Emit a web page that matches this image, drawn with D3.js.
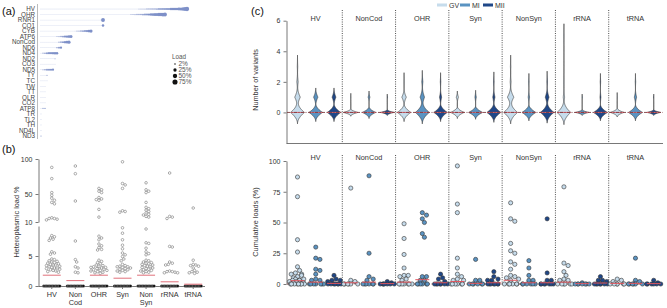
<!DOCTYPE html>
<html lang="en">
<head>
<meta charset="utf-8">
<title>mtDNA heteroplasmy</title>
<script src="https://d3js.org/d3.v7.min.js"></script>
<style>
  body { margin: 0; background: #fff; font-family: 'Liberation Sans', Arial, sans-serif; }
  text { fill: #333; }
  .axis path, .axis line { stroke: #555; stroke-width: 0.8px; }
  .axis text { font-size: 7px; fill: #333; }
</style>
</head>
<body>
<div id="fig"></div>
<script>
// ---------- panel (a): variants per gene ----------
var genes = ["HV","OHR","RNR1","CO1","CYB","ATP6","NonCod","ND6","ND4","ND2","CO3","ND5",
             "TY","TC","TW","TT","OLR","CO2","ATP8","TR","TL2","TH","ND4L","ND3"];
// number of low-load (~2%) variants per gene
var geneLowCount = [49, 45, 30, 31, 17, 8, 9, 8, 1, 7, 8, 1, 3, 4, 3, 3, 3, 3, 1, 1, 1, 1, 1, 0];
// loads (%) of the remaining variants per gene
var geneHighLoads = [
  [4,5,5,6,7,8,9,10,11,12,13,14,15,17,19,20,22,25,27,30,33,36,45,60,75],
  [4,5,6,7,8,10,12,14,16,20,25,30,36,40,45,50,55,58],
  [3,60],
  [25],
  [3,5,7,10,13,17,21,30,40],
  [4,6,9,13,18,24,30,36],
  [6,10,15,22,30,40],
  [8,14,20],
  [5,10,15,18,20,22,24,25],
  [4],
  [],
  [6,10,14,16,18,20],
  [6], [], [], [], [], [],
  [5,6],
  [], [], [], [],
  [5]
];
var loadLegend = [2, 25, 50, 75];

// ---------- panel (b): heteroplasmic load per region ----------
var bCats = ["HV","Non Cod","OHR","Syn","Non Syn","rRNA","tRNA"];
var bLoads = [
  [88,72,52,48,44,41,38,36,16,15,15,14,13,8.4,8.2,8.0,7.8,7.6,5.7,5.5,5.3,4.5,4.4,4.2,4.1,4.0,3.9,3.8,3.7,3.6,3.5,3.4,3.3,3.2,3.1,3.0,2.9,2.8,2.7,2.6,2.5,2.4,2.3,3.5,3.0],
  [90,79,40,7.5,4.4,4.0,3.2,3.0,2.3,2.2],
  [58,56,54,52,45,43,42,41,28,17,8.3,8.0,7.7,7.0,6.7,6.4,6.1,6.0,4.3,4.1,3.9,3.7,3.5,3.4,3.3,3.2,3.1,3.0,2.9,2.8,2.7,2.6,2.5,2.4,2.3,2.2,2.1,2.9,3.1,2.6],
  [96,65,63,58,26,25,24,9.7,8.8,7.7,6.8,6.2,5.5,5.2,4.9,4.5,4.2,3.4,3.3,3.2,3.1,3.0,2.9,2.8,2.7,2.6,2.5,2.4,2.3,3.6,3.2],
  [66,56,54,52,38,31,29,27,25,23,21,20,18,17,9.5,7.2,7.1,6.3,5.7,5.4,5.2,4.3,4.2,4.0,3.9,3.8,3.7,3.6,3.5,3.4,3.3,3.2,3.1,3.0,2.9,2.8,2.7,2.6,2.5,2.4,2.3,2.2],
  [80,18,17,15,6.6,6.5,4.0,3.8,3.6,3.5,2.5,2.4,2.4,2.3,2.2,2.2],
  [30,4.3,3.6,3.5,3.4,3.3,3.0,2.6,2.4,2.3,2.2,2.1]
];
var bZeroCount = [12, 12, 12, 12, 12, 12, 12];
var bMedians = [1.8, 0.9, 1.8, 1.3, 1.8, 0.7, 0.3];

// ---------- panel (c): per stage ----------
var regions = ["HV","NonCod","OHR","Syn","NonSyn","rRNA","tRNA"];
var stages = ["GV","MI","MII"];
var stageColors = ["#c6dcec", "#5a93c2", "#1f4788"];

// number of oocytes carrying 0,1,2,... variants
var cntGV  = [[30,12,3,1],[30,1],[30,10,1],[30,5],[30,14,2,1],[30,3,1,0,0,1],[30,1]];
var cntMI  = [[25,8],[30,4],[25,8,2],[30,3],[30,3,1],[30,1],[30,5,1]];
var cntMII = [[25,7],[30,1],[25,4,1],[25,4,1],[25,7,1],[30,2,1],[30,1]];
// kernel extent (variants) around each value
var bwGV  = [0.75, 0.25, 0.6, 0.4, 0.75, 0.8, 0.3];
var bwMI  = [0.6, 0.4, 0.75, 0.45, 0.55, 0.2, 0.55];
var bwMII = [0.6, 0.2, 0.6, 0.65, 0.7, 0.55, 0.2];

// cumulative loads (%)
var cGV = [
  [87,71,36,26,14,11,9,8,8,7,6,5,4,4,3,3,3,2,2,1,1,0,0,0,0,0,0,0,0],
  [78,3,2,0,0,0,0,0,0],
  [49,37,24,13,7,7,6,4,3,0,0,0,0,0,0,0],
  [96,65,58,21,13,8,6,4,3,3,0,0,0,0,0,0],
  [66,53,51,33,27,25,18,16,12,7,6,5,4,3,0,0,0,0,0,0],
  [79,17,15,10,7,4,3,3,0,0,0,0,0,0],
  [4,3,2,0,0,0,0,0,0]
];
var cMI = [
  [30,21,20,12,11,8,4,3,3,0,0,0,0,0,0,0],
  [88,25,6,4,3,0,0,0,0,0,0],
  [58,56,53,50,41,38,6,6,3,3,0,0,0,0,0,0],
  [20,3,3,0,0,0,0,0,0],
  [19,13,7,3,3,0,0,0,0,0,0],
  [1,0,0,0,0,0,0,0],
  [21,3,2,0,0,0,0,0,0]
];
var cMII = [
  [7,4,3,3,2,0,0,0,0,0,0,0],
  [2,1,0,0,0,0,0,0,0],
  [8,5,4,2,0,0,0,0,0,0,0],
  [10,6,4,3,3,0,0,0,0,0,0,0],
  [53,9,3,3,0,0,0,0,0,0,0],
  [6,3,3,2,0,0,0,0,0,0,0],
  [3,1,0,0,0,0,0,0]
];
var cMedGV  = [2.7, 1, 1.5, 2, 3, 1.5, 0.5];
var cMedMI  = [1.5, 1.5, 3.5, 0.5, 1, 0.3, 0.5];
var cMedMII = [0.5, 0.3, 1, 1, 1, 0.8, 0.3];

var width = 667, height = 308;
var svg = d3.select("#fig").append("svg")
  .attr("width", width).attr("height", height);

// simple deterministic beeswarm: returns x offsets
function swarm(values, yPos, r, maxOff) {
  var placed = [];
  var out = new Array(values.length);
  var order = d3.range(values.length).sort(function (a, b) { return values[b] - values[a]; });
  order.forEach(function (i, n) {
    var y = yPos(values[i]);
    var step = r * 0.95, off = null;
    for (var k = 0; k < 60; k++) {
      var o = (k % 2 ? 1 : -1) * Math.ceil(k / 2) * step;
      if (Math.abs(o) > maxOff) continue;
      var ok = placed.every(function (p) {
        var dx = p.x - o, dy = p.y - y;
        return dx * dx + dy * dy >= 3.4 * r * r;
      });
      if (ok) { off = o; break; }
    }
    if (off === null) off = ((n * 7) % 17 - 8) / 8 * maxOff;
    placed.push({ x: off, y: y });
    out[i] = off;
  });
  return out;
}

// ================= panel (a) =================
var ga = svg.append("g");
ga.append("text").attr("x", 2).attr("y", 15).style("font-size", "11px").style("fill", "#111").text("(a)");

var yA = d3.scalePoint().domain(genes).range([9, 136]);
var xA = d3.scaleLinear().domain([0, 74]).range([41, 189]);
var rA = function (v) { return Math.max(0.38, 0.25 * Math.sqrt(v)); };

ga.append("line").attr("x1", 37.5).attr("x2", 37.5).attr("y1", 4).attr("y2", 139)
  .attr("stroke", "#aaa").attr("stroke-width", 0.8);

ga.selectAll(".glab").data(genes).enter().append("text")
  .attr("x", 35).attr("y", function (d) { return yA(d) + 2.2; })
  .attr("text-anchor", "end").style("font-size", "6.3px").style("fill", "#444")
  .text(function (d) { return d; });

genes.forEach(function (g, gi) {
  var loads = d3.range(geneLowCount[gi]).map(function () { return 2; }).concat(geneHighLoads[gi]);
  ga.selectAll(".dot" + gi).data(loads).enter().append("circle")
    .attr("cx", function (d, i) { return xA(i); })
    .attr("cy", yA(g))
    .attr("r", function (d) { return rA(d); })
    .attr("fill", function (d) { return d <= 2 ? "#98a6d4" : "#7e90c8"; });
});

var yLeg = d3.scalePoint().domain(loadLegend).range([64, 82]);
ga.append("text").attr("x", 172).attr("y", 59).style("font-size", "6.3px").style("fill", "#555").text("Load");
ga.selectAll(".legc").data(loadLegend).enter().append("circle")
  .attr("cx", 175).attr("cy", function (d) { return yLeg(d); })
  .attr("r", function (d) { return rA(d) + 0.4; }).attr("fill", "#111");
ga.selectAll(".legt").data(loadLegend).enter().append("text")
  .attr("x", 178.5).attr("y", function (d) { return yLeg(d) + 2.3; })
  .style("font-size", "6.5px").style("fill", "#555")
  .text(function (d) { return d + "%"; });

// ================= panel (b) =================
var gb = svg.append("g");
gb.append("text").attr("x", 2).attr("y", 153).style("font-size", "11px").style("fill", "#111").text("(b)");

var yLow = d3.scaleLinear().domain([0, 10]).range([286, 226]);
var yHigh = d3.scaleLinear().domain([10, 100]).range([222, 159]);
var yB = function (v) { return v <= 10 ? yLow(v) : yHigh(v); };
var xB = d3.scaleBand().domain(bCats).range([40, 205]);

gb.append("g").attr("class", "axis").attr("transform", "translate(38.5,0)")
  .call(d3.axisLeft(yLow).tickValues([0, 5]).tickSize(3).tickSizeOuter(0));
gb.append("g").attr("class", "axis").attr("transform", "translate(38.5,0)")
  .call(d3.axisLeft(yHigh).tickValues([10, 50, 100]).tickSize(3).tickSizeOuter(0));

var xAxisB = gb.append("g").attr("class", "axis").attr("transform", "translate(0,286)")
  .call(d3.axisBottom(xB).tickSize(3).tickSizeOuter(0));
xAxisB.select(".domain").attr("d", "M38.5,0.5H205");
xAxisB.selectAll("text").each(function (d) {
  var t = d3.select(this), parts = d.split(" ");
  t.text(null).style("font-size", "7.3px");
  parts.forEach(function (p, i) {
    t.append("tspan").attr("x", 0).attr("dy", i === 0 ? "0.71em" : "1.1em").text(p);
  });
});

gb.append("text").attr("transform", "translate(19,222) rotate(-90)")
  .attr("text-anchor", "middle").style("font-size", "7.3px").text("Heteroplasmic load %");

bCats.forEach(function (c, ci) {
  var cx = xB(c) + xB.bandwidth() / 2;
  var offs = swarm(bLoads[ci], yB, 1.4, 8);
  gb.selectAll(".bp" + ci).data(bLoads[ci]).enter().append("circle")
    .attr("cx", function (d, i) { return cx + offs[i]; })
    .attr("cy", function (d) { return yB(d); })
    .attr("r", 1.3).attr("fill", "#fff").attr("stroke", "#777").attr("stroke-width", 0.6);
  var zx = d3.scaleLinear().domain([0, bZeroCount[ci] - 1]).range([cx - 8, cx + 8]);
  gb.selectAll(".bz" + ci).data(d3.range(bZeroCount[ci])).enter().append("circle")
    .attr("cx", function (d) { return zx(d); }).attr("cy", yB(0))
    .attr("r", 1.6).attr("fill", "#111").attr("stroke", "#fff").attr("stroke-width", 0.25);
  gb.append("line").attr("x1", cx - 9).attr("x2", cx + 9)
    .attr("y1", yB(bMedians[ci])).attr("y2", yB(bMedians[ci]))
    .attr("stroke", "#e0707a").attr("stroke-width", 1);
});

// ================= panel (c) =================
var gc = svg.append("g");
gc.append("text").attr("x", 251).attr("y", 15).style("font-size", "11px").style("fill", "#111").text("(c)");

var xFacet = d3.scaleBand().domain(regions).range([289, 662]);
var xStage = d3.scalePoint().domain(stages).range([8.5, 45]);
var yTop = d3.scaleLinear().domain([-2, 6]).range([143, 20.7]);
var yBot = d3.scaleLinear().domain([0, 100]).range([284, 161]);

// legend
var legX = d3.scalePoint().domain(stages).range([437, 483]);
stages.forEach(function (s, si) {
  gc.append("rect").attr("x", legX(s)).attr("y", 3.5).attr("width", 10).attr("height", 3)
    .attr("fill", stageColors[si]);
  gc.append("text").attr("x", legX(s) + 12).attr("y", 8).style("font-size", "7px").text(s);
});

// axes
gc.append("g").attr("class", "axis").attr("transform", "translate(286.5,0)")
  .call(d3.axisLeft(yTop).tickValues([0, 2, 4, 6]).tickSize(3).tickSizeOuter(0));
gc.append("g").attr("class", "axis").attr("transform", "translate(0,143.5)")
  .call(d3.axisBottom(xFacet).tickValues([]).tickSizeOuter(0))
  .select(".domain").attr("d", "M286.5,0H663");
gc.append("g").attr("class", "axis").attr("transform", "translate(286.5,0)")
  .call(d3.axisLeft(yBot).tickValues([0, 25, 50, 75, 100]).tickSize(3).tickSizeOuter(0));

gc.append("text").attr("transform", "translate(258,80) rotate(-90)")
  .attr("text-anchor", "middle").style("font-size", "7.3px").text("Number of variants");
gc.append("text").attr("transform", "translate(258,222) rotate(-90)")
  .attr("text-anchor", "middle").style("font-size", "7.3px").text("Cumulative loads (%)");

// facet titles and separators
regions.forEach(function (r, ri) {
  var x0 = xFacet(r), mid = x0 + xFacet.bandwidth() / 2;
  gc.append("text").attr("x", mid).attr("y", 21).attr("text-anchor", "middle")
    .style("font-size", "7.3px").text(r);
  gc.append("text").attr("x", mid).attr("y", 160).attr("text-anchor", "middle")
    .style("font-size", "7.3px").text(r);
  if (ri > 0) {
    [[10, 143], [155, 284]].forEach(function (ys) {
      gc.append("line").attr("x1", x0).attr("x2", x0).attr("y1", ys[0]).attr("y2", ys[1])
        .attr("stroke", "#222").attr("stroke-width", 0.8).attr("stroke-dasharray", "1,1.3");
    });
  }
});

// violins: sharp kernel (1-|u|)^2 over +/- extent around each count
var counts = [cntGV, cntMI, cntMII], bws = [bwGV, bwMI, bwMII];
var violinHalf = 6.8;
regions.forEach(function (r, ri) {
  stages.forEach(function (s, si) {
    var cx = xFacet(r) + xStage(s);
    var cnt = counts[si][ri], ext = bws[si][ri];
    var top = cnt.length - 1;
    var ys = d3.range(-ext, top + ext + 0.0001, 0.02);
    var pts = ys.map(function (y) {
      return {
        y: y,
        d: d3.sum(cnt, function (c, k) {
          var u = Math.abs(y - k) / ext;
          return u < 1 ? c * (1 - u) * (1 - u) : 0;
        })
      };
    });
    var w = d3.scaleLinear().domain([0, d3.max(pts, function (p) { return p.d; })]).range([0, violinHalf]);
    var area = d3.area()
      .y(function (p) { return yTop(p.y); })
      .x0(function (p) { return cx - w(p.d); })
      .x1(function (p) { return cx + w(p.d); });
    gc.append("path").datum(pts).attr("d", area)
      .attr("fill", stageColors[si]).attr("stroke", "#333").attr("stroke-width", 0.6);
    gc.append("line").attr("x1", cx - violinHalf).attr("x2", cx + violinHalf)
      .attr("y1", yTop(0)).attr("y2", yTop(0)).attr("stroke", "#d9646c").attr("stroke-width", 1);
  });
});

// zero reference lines
[yTop(0), yBot(0)].forEach(function (y) {
  gc.append("line").attr("x1", 287).attr("x2", 663).attr("y1", y).attr("y2", y)
    .attr("stroke", "#7d3b40").attr("stroke-width", 0.9).attr("stroke-dasharray", "3,1.5,1,1.5");
});

// cumulative load dots
var loads = [cGV, cMI, cMII], meds = [cMedGV, cMedMI, cMedMII];
regions.forEach(function (r, ri) {
  stages.forEach(function (s, si) {
    var cx = xFacet(r) + xStage(s);
    var vals = loads[si][ri];
    var offs = swarm(vals, yBot, 2.2, 8);
    gc.selectAll(".cp" + ri + "_" + si).data(vals).enter().append("circle")
      .attr("cx", function (d, i) { return cx + offs[i]; })
      .attr("cy", function (d) { return yBot(d); })
      .attr("r", 2.1).attr("fill", stageColors[si]).attr("stroke", "#333").attr("stroke-width", 0.6);
    var m = meds[si][ri];
    gc.append("line").attr("x1", cx - 7).attr("x2", cx + 7)
      .attr("y1", yBot(m)).attr("y2", yBot(m)).attr("stroke", "#e0555e").attr("stroke-width", 1);
  });
});
</script>
</body>
</html>
